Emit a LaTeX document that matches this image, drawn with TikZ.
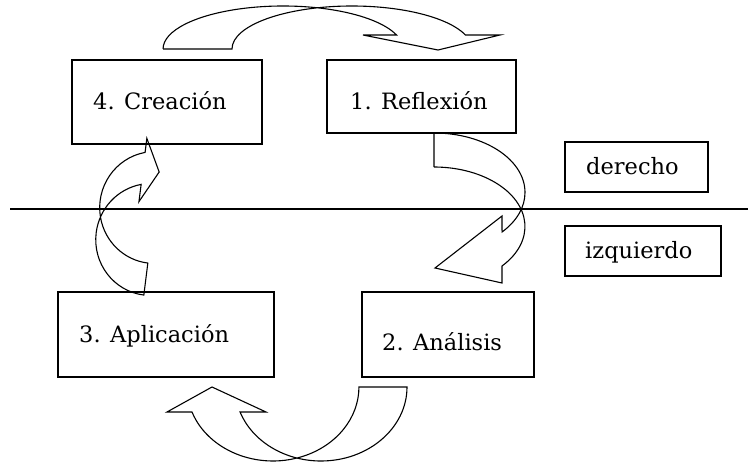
\documentclass[tikz,border=0pt]{standalone}
\usepackage{fontspec}
\setmainfont{DejaVu Serif}
\begin{document}
\begin{tikzpicture}[x=1pt,y=-1pt,
  box/.style={draw, line width=1.1pt, inner sep=0pt, outer sep=0pt},
  lbl/.style={anchor=base west, inner sep=0pt, font=\fontsize{22.5}{27}\selectfont},
  blk/.style={draw, line width=1.1pt, line join=miter}]
\useasboundingbox (0,0) rectangle (754,465);

% boxes
\node[box, minimum width=190pt, minimum height=84pt] (c4) at (167,102) {};
\node[box, minimum width=189pt, minimum height=73pt] (r1) at (421.5,96.5) {};
\node[box, minimum width=143pt, minimum height=50pt] (der) at (636.5,167) {};
\node[box, minimum width=156pt, minimum height=50pt] (izq) at (643,251) {};
\node[box, minimum width=216pt, minimum height=85pt] (a3) at (166,334.5) {};
\node[box, minimum width=172pt, minimum height=85pt] (a2) at (448,334.5) {};

% labels
\node[lbl] (t4) at (93,110) {4. Creación};
\node[lbl] (t1) at (350,110) {1. Reflexión};
\node[lbl] (t3) at (79,342) {3. Aplicación};
\node[lbl] (t2) at (382,350) {2. Análisis};
\node[lbl] (td) at (586,175) {derecho};
\node[lbl] (ti) at (585,258) {izquierdo};

% dividing line
\coordinate (L) at (10,209);
\coordinate (R) at (748,209);
\draw[line width=1.1pt] (L) -- (R);

% top curved arrow (4 -> 1)
\draw[blk] (163,49) -- (232,49)
  arc[start angle=180, end angle=19, x radius=120pt, y radius=43pt]
  -- (500,35) -- (438,50) -- (363,35) -- (396.5,35)
  arc[start angle=19, end angle=180, x radius=120pt, y radius=43pt] -- cycle;

% right curved arrow (1 -> 2)
\draw[blk] (434,167) -- (434,133)
  arc[start angle=90, end angle=-41.6, x radius=91pt, y radius=59.5pt]
  -- (502,216) -- (435,268) -- (502,283) -- (502,266)
  arc[start angle=-41.6, end angle=90, x radius=91pt, y radius=59.5pt] -- cycle;

% bottom curved arrow (2 -> 3)
\draw[blk] (359,387) -- (407,387)
  arc[start angle=0, end angle=-160.24, x radius=86pt, y radius=74pt]
  -- (266,412) -- (212,387) -- (167,412) -- (192,412)
  arc[start angle=-160.24, end angle=0, x radius=86pt, y radius=74pt] -- cycle;

% left curved arrow (3 -> 4)
\begin{scope}[rotate around={-7.1:(145,217)}]
\draw[blk] (153.5,262.4) -- (153.5,294.6)
  arc[start angle=270, end angle=107.3, x radius=55pt, y radius=56pt]
  -- (137.1,202.5) -- (153.5,170.6) -- (137.1,138.7) -- (137.1,152.9)
  arc[start angle=107.3, end angle=270, x radius=55pt, y radius=56pt] -- cycle;
\end{scope}
\end{tikzpicture}
\end{document}
